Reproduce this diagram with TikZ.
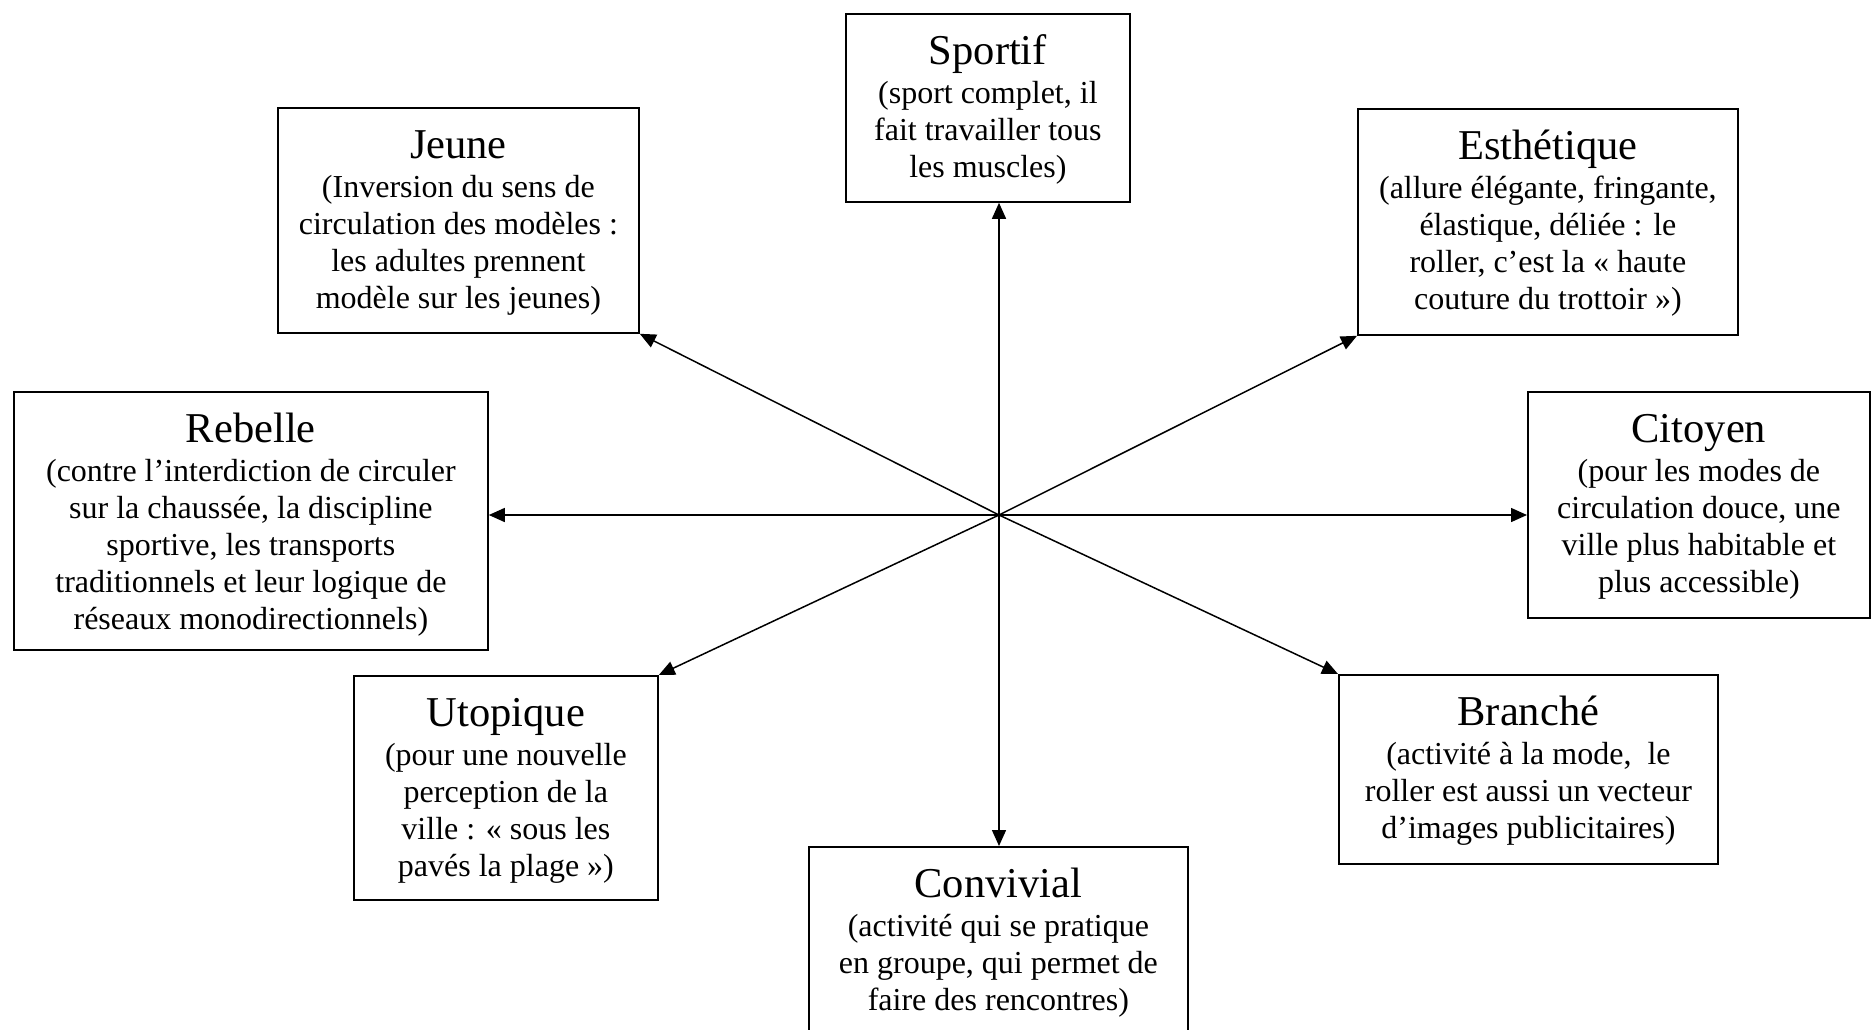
\documentclass[tikz,border=0pt]{standalone}
\usepackage{fontspec}
\setmainfont{Liberation Serif}
\usetikzlibrary{arrows.meta,positioning}

\tikzset{
  box/.style = {draw, line width=1.8pt, inner sep=0pt, anchor=north west},
  txt/.style = {align=center, inner sep=0pt, font=\fontsize{32}{37}\selectfont},
  arr/.style = {line width=1.5pt, -{Triangle[length=16pt,width=14pt]}}
}
\newcommand{\titre}[1]{{\fontsize{42.5}{37}\selectfont\rule{0pt}{32pt}#1}\\[2.5pt]}

\begin{document}
\begin{tikzpicture}[x=1pt, y=-1pt]
      \useasboundingbox (0, 0) rectangle (1872, 1029);
      \fill[white] (0, 0) rectangle (1872, 1029);

      \node[box, minimum width=284, minimum height=188] (sportif) at (845, 13) {};
      \node[box, minimum width=361, minimum height=225] (jeune) at (277, 107) {};
      \node[box, minimum width=380, minimum height=226] (esthetique) at (1357, 108) {};
      \node[box, minimum width=474, minimum height=258] (rebelle) at (13, 391) {};
      \node[box, minimum width=342, minimum height=226] (citoyen) at (1527, 391) {};
      \node[box, minimum width=304, minimum height=224] (utopique) at (353, 675) {};
      \node[box, minimum width=379, minimum height=189] (branche) at (1338, 674) {};
      \node[box, minimum width=379, minimum height=200] (convivial) at (808, 846) {};

      \node[txt, below=19pt of sportif.north] (tsportif)
        {\titre{Sportif}(sport complet, il\\fait travailler tous\\les muscles)};
      \node[txt, below=19pt of jeune.north] (tjeune)
        {\titre{Jeune}(Inversion du sens de\\circulation des modèles :\\les adultes prennent\\modèle sur les jeunes)};
      \node[txt, below=19pt of esthetique.north] (testhetique)
        {\titre{Esthétique}(allure élégante, fringante,\\élastique, déliée : le\\roller, c’est la « haute\\couture du trottoir »)};
      \node[txt, below=19pt of rebelle.north] (trebelle)
        {\titre{Rebelle}(contre l’interdiction de circuler\\sur la chaussée, la discipline\\sportive, les transports\\traditionnels et leur logique de\\réseaux monodirectionnels)};
      \node[txt, below=19pt of citoyen.north] (tcitoyen)
        {\titre{Citoyen}(pour les modes de\\circulation douce, une\\ville plus habitable et\\plus accessible)};
      \node[txt, below=19pt of utopique.north] (tutopique)
        {\titre{Utopique}(pour une nouvelle\\perception de la\\ville : « sous les\\pavés la plage »)};
      \node[txt, below=19pt of branche.north] (tbranche)
        {\titre{Branché}(activité à la mode,\ \ le\\roller est aussi un vecteur\\d’images publicitaires)};
      \node[txt, below=19pt of convivial.north] (tconvivial)
        {\titre{Convivial}(activité qui se pratique\\en groupe, qui permet de\\faire des rencontres)};

      \coordinate (centre) at (999, 515);
      \draw[arr] (centre) -- (centre |- sportif.south);
      \draw[arr] (centre) -- (centre |- convivial.north);
      \draw[arr] (centre) -- (centre -| rebelle.east);
      \draw[arr] (centre) -- (centre -| citoyen.west);
      \draw[arr] (centre) -- (jeune.south east);
      \draw[arr] (centre) -- (esthetique.south west);
      \draw[arr] (centre) -- (utopique.north east);
      \draw[arr] (centre) -- (branche.north west);
    \end{tikzpicture}
\end{document}
